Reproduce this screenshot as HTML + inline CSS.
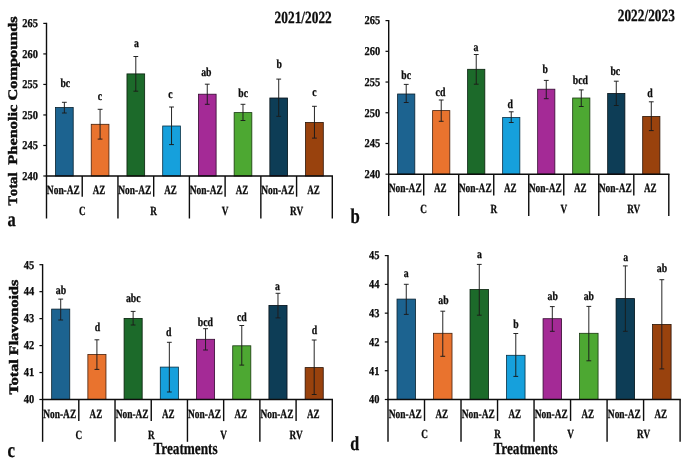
<!DOCTYPE html>
<html lang="en"><head><meta charset="utf-8"><title>Total phenolic compounds and flavonoids</title>
<style>
html,body{margin:0;padding:0;background:#fff;}
body{width:685px;height:460px;overflow:hidden;}
svg{display:block;font-family:"Liberation Serif","Times New Roman",serif;fill:#0a0a0a;text-rendering:geometricPrecision;}
text{stroke:#0a0a0a;stroke-width:0.28px;}
</style></head><body>
<svg width="685" height="460" viewBox="0 0 685 460">
<defs><filter id="soft" x="0" y="0" width="685" height="460" filterUnits="userSpaceOnUse"><feGaussianBlur stdDeviation="0.45"/></filter></defs>
<rect width="685" height="460" fill="#fff"/>
<g filter="url(#soft)">
<rect width="685" height="460" fill="#fff"/>
<rect x="55.51" y="107.5" width="17.7" height="68.5" fill="#1d6390" stroke="#09202e" stroke-width="0.8"/>
<line x1="64.36" y1="102.3" x2="64.36" y2="113" stroke="#1a1a1a" stroke-width="0.95"/>
<line x1="61.96" y1="102.3" x2="66.76" y2="102.3" stroke="#1a1a1a" stroke-width="0.95"/>
<line x1="61.96" y1="113" x2="66.76" y2="113" stroke="#1a1a1a" stroke-width="0.95"/>
<rect x="91.24" y="124.3" width="17.7" height="51.7" fill="#e9732f" stroke="#45200b" stroke-width="0.8"/>
<line x1="100.09" y1="109.3" x2="100.09" y2="139.1" stroke="#1a1a1a" stroke-width="0.95"/>
<line x1="97.69" y1="109.3" x2="102.49" y2="109.3" stroke="#1a1a1a" stroke-width="0.95"/>
<line x1="97.69" y1="139.1" x2="102.49" y2="139.1" stroke="#1a1a1a" stroke-width="0.95"/>
<rect x="126.96" y="73.9" width="17.7" height="102.1" fill="#1d6a2b" stroke="#07200d" stroke-width="0.8"/>
<line x1="135.81" y1="56.5" x2="135.81" y2="91.2" stroke="#1a1a1a" stroke-width="0.95"/>
<line x1="133.41" y1="56.5" x2="138.21" y2="56.5" stroke="#1a1a1a" stroke-width="0.95"/>
<line x1="133.41" y1="91.2" x2="138.21" y2="91.2" stroke="#1a1a1a" stroke-width="0.95"/>
<rect x="162.69" y="126" width="17.7" height="50" fill="#16a0dc" stroke="#072f44" stroke-width="0.8"/>
<line x1="171.54" y1="107" x2="171.54" y2="144.6" stroke="#1a1a1a" stroke-width="0.95"/>
<line x1="169.14" y1="107" x2="173.94" y2="107" stroke="#1a1a1a" stroke-width="0.95"/>
<line x1="169.14" y1="144.6" x2="173.94" y2="144.6" stroke="#1a1a1a" stroke-width="0.95"/>
<rect x="198.41" y="94.2" width="17.7" height="81.8" fill="#a42c96" stroke="#330b2f" stroke-width="0.8"/>
<line x1="207.26" y1="84.2" x2="207.26" y2="104.3" stroke="#1a1a1a" stroke-width="0.95"/>
<line x1="204.86" y1="84.2" x2="209.66" y2="84.2" stroke="#1a1a1a" stroke-width="0.95"/>
<line x1="204.86" y1="104.3" x2="209.66" y2="104.3" stroke="#1a1a1a" stroke-width="0.95"/>
<rect x="234.14" y="112.6" width="17.7" height="63.4" fill="#4ea832" stroke="#17380f" stroke-width="0.8"/>
<line x1="242.99" y1="104.3" x2="242.99" y2="120.5" stroke="#1a1a1a" stroke-width="0.95"/>
<line x1="240.59" y1="104.3" x2="245.39" y2="104.3" stroke="#1a1a1a" stroke-width="0.95"/>
<line x1="240.59" y1="120.5" x2="245.39" y2="120.5" stroke="#1a1a1a" stroke-width="0.95"/>
<rect x="269.86" y="98" width="17.7" height="78" fill="#0f3e57" stroke="#030f16" stroke-width="0.8"/>
<line x1="278.71" y1="79.1" x2="278.71" y2="116.3" stroke="#1a1a1a" stroke-width="0.95"/>
<line x1="276.31" y1="79.1" x2="281.11" y2="79.1" stroke="#1a1a1a" stroke-width="0.95"/>
<line x1="276.31" y1="116.3" x2="281.11" y2="116.3" stroke="#1a1a1a" stroke-width="0.95"/>
<rect x="305.59" y="122.5" width="17.7" height="53.5" fill="#99420f" stroke="#2b1203" stroke-width="0.8"/>
<line x1="314.44" y1="106.3" x2="314.44" y2="138.1" stroke="#1a1a1a" stroke-width="0.95"/>
<line x1="312.04" y1="106.3" x2="316.84" y2="106.3" stroke="#1a1a1a" stroke-width="0.95"/>
<line x1="312.04" y1="138.1" x2="316.84" y2="138.1" stroke="#1a1a1a" stroke-width="0.95"/>
<text x="65.3" y="87.3" font-size="12.2" text-anchor="middle" font-weight="bold" textLength="9.76" lengthAdjust="spacingAndGlyphs">bc</text>
<text x="100" y="99.6" font-size="12.2" text-anchor="middle" font-weight="bold" textLength="4.33" lengthAdjust="spacingAndGlyphs">c</text>
<text x="136.4" y="47.4" font-size="12.2" text-anchor="middle" font-weight="bold" textLength="4.88" lengthAdjust="spacingAndGlyphs">a</text>
<text x="170.5" y="98.4" font-size="12.2" text-anchor="middle" font-weight="bold" textLength="4.33" lengthAdjust="spacingAndGlyphs">c</text>
<text x="206.4" y="75.8" font-size="12.2" text-anchor="middle" font-weight="bold" textLength="10.31" lengthAdjust="spacingAndGlyphs">ab</text>
<text x="243.1" y="97.1" font-size="12.2" text-anchor="middle" font-weight="bold" textLength="9.76" lengthAdjust="spacingAndGlyphs">bc</text>
<text x="279.3" y="68.2" font-size="12.2" text-anchor="middle" font-weight="bold" textLength="5.43" lengthAdjust="spacingAndGlyphs">b</text>
<text x="314.5" y="95.9" font-size="12.2" text-anchor="middle" font-weight="bold" textLength="4.33" lengthAdjust="spacingAndGlyphs">c</text>
<line x1="46.5" y1="22.8" x2="46.5" y2="218.5" stroke="#0a0a0a" stroke-width="1.4"/>
<line x1="45.8" y1="176" x2="333" y2="176" stroke="#0a0a0a" stroke-width="1.5"/>
<line x1="43.3" y1="176" x2="46.5" y2="176" stroke="#0a0a0a" stroke-width="1.2"/>
<text x="38" y="179.8" font-size="12" text-anchor="end" font-weight="bold" textLength="15.66" lengthAdjust="spacingAndGlyphs">240</text>
<line x1="43.3" y1="145.48" x2="46.5" y2="145.48" stroke="#0a0a0a" stroke-width="1.2"/>
<text x="38" y="149.28" font-size="12" text-anchor="end" font-weight="bold" textLength="15.66" lengthAdjust="spacingAndGlyphs">245</text>
<line x1="43.3" y1="114.96" x2="46.5" y2="114.96" stroke="#0a0a0a" stroke-width="1.2"/>
<text x="38" y="118.76" font-size="12" text-anchor="end" font-weight="bold" textLength="15.66" lengthAdjust="spacingAndGlyphs">250</text>
<line x1="43.3" y1="84.44" x2="46.5" y2="84.44" stroke="#0a0a0a" stroke-width="1.2"/>
<text x="38" y="88.24" font-size="12" text-anchor="end" font-weight="bold" textLength="15.66" lengthAdjust="spacingAndGlyphs">255</text>
<line x1="43.3" y1="53.92" x2="46.5" y2="53.92" stroke="#0a0a0a" stroke-width="1.2"/>
<text x="38" y="57.72" font-size="12" text-anchor="end" font-weight="bold" textLength="15.66" lengthAdjust="spacingAndGlyphs">260</text>
<line x1="43.3" y1="23.4" x2="46.5" y2="23.4" stroke="#0a0a0a" stroke-width="1.2"/>
<text x="38" y="27.2" font-size="12" text-anchor="end" font-weight="bold" textLength="15.66" lengthAdjust="spacingAndGlyphs">265</text>
<line x1="82.22" y1="176" x2="82.22" y2="196.7" stroke="#0a0a0a" stroke-width="1.4"/>
<line x1="117.95" y1="176" x2="117.95" y2="218.5" stroke="#0a0a0a" stroke-width="1.4"/>
<line x1="153.68" y1="176" x2="153.68" y2="196.7" stroke="#0a0a0a" stroke-width="1.4"/>
<line x1="189.4" y1="176" x2="189.4" y2="218.5" stroke="#0a0a0a" stroke-width="1.4"/>
<line x1="225.12" y1="176" x2="225.12" y2="196.7" stroke="#0a0a0a" stroke-width="1.4"/>
<line x1="260.85" y1="176" x2="260.85" y2="218.5" stroke="#0a0a0a" stroke-width="1.4"/>
<line x1="296.58" y1="176" x2="296.58" y2="196.7" stroke="#0a0a0a" stroke-width="1.4"/>
<line x1="332.3" y1="176" x2="332.3" y2="218.5" stroke="#0a0a0a" stroke-width="1.4"/>
<text x="63.36" y="193.7" font-size="12.5" text-anchor="middle" font-weight="bold" textLength="33" lengthAdjust="spacingAndGlyphs">Non-AZ</text>
<text x="99.09" y="193.7" font-size="12.5" text-anchor="middle" font-weight="bold" textLength="12.6" lengthAdjust="spacingAndGlyphs">AZ</text>
<text x="134.81" y="193.7" font-size="12.5" text-anchor="middle" font-weight="bold" textLength="33" lengthAdjust="spacingAndGlyphs">Non-AZ</text>
<text x="170.54" y="193.7" font-size="12.5" text-anchor="middle" font-weight="bold" textLength="12.6" lengthAdjust="spacingAndGlyphs">AZ</text>
<text x="206.26" y="193.7" font-size="12.5" text-anchor="middle" font-weight="bold" textLength="33" lengthAdjust="spacingAndGlyphs">Non-AZ</text>
<text x="241.99" y="193.7" font-size="12.5" text-anchor="middle" font-weight="bold" textLength="12.6" lengthAdjust="spacingAndGlyphs">AZ</text>
<text x="277.71" y="193.7" font-size="12.5" text-anchor="middle" font-weight="bold" textLength="33" lengthAdjust="spacingAndGlyphs">Non-AZ</text>
<text x="313.44" y="193.7" font-size="12.5" text-anchor="middle" font-weight="bold" textLength="12.6" lengthAdjust="spacingAndGlyphs">AZ</text>
<text x="82.22" y="215.1" font-size="12.5" text-anchor="middle" font-weight="bold" textLength="6.68" lengthAdjust="spacingAndGlyphs">C</text>
<text x="153.68" y="215.1" font-size="12.5" text-anchor="middle" font-weight="bold" textLength="6.68" lengthAdjust="spacingAndGlyphs">R</text>
<text x="225.12" y="215.1" font-size="12.5" text-anchor="middle" font-weight="bold" textLength="6.68" lengthAdjust="spacingAndGlyphs">V</text>
<text x="296.58" y="215.1" font-size="12.5" text-anchor="middle" font-weight="bold" textLength="13.03" lengthAdjust="spacingAndGlyphs">RV</text>
<rect x="397.61" y="94" width="17.2" height="80.2" fill="#1d6390" stroke="#09202e" stroke-width="0.8"/>
<line x1="406.21" y1="84.4" x2="406.21" y2="102.5" stroke="#1a1a1a" stroke-width="0.95"/>
<line x1="403.81" y1="84.4" x2="408.61" y2="84.4" stroke="#1a1a1a" stroke-width="0.95"/>
<line x1="403.81" y1="102.5" x2="408.61" y2="102.5" stroke="#1a1a1a" stroke-width="0.95"/>
<rect x="432.62" y="110.6" width="17.2" height="63.6" fill="#e9732f" stroke="#45200b" stroke-width="0.8"/>
<line x1="441.22" y1="100" x2="441.22" y2="121.3" stroke="#1a1a1a" stroke-width="0.95"/>
<line x1="438.82" y1="100" x2="443.62" y2="100" stroke="#1a1a1a" stroke-width="0.95"/>
<line x1="438.82" y1="121.3" x2="443.62" y2="121.3" stroke="#1a1a1a" stroke-width="0.95"/>
<rect x="467.63" y="69.3" width="17.2" height="104.9" fill="#1d6a2b" stroke="#07200d" stroke-width="0.8"/>
<line x1="476.23" y1="54.5" x2="476.23" y2="84.2" stroke="#1a1a1a" stroke-width="0.95"/>
<line x1="473.83" y1="54.5" x2="478.63" y2="54.5" stroke="#1a1a1a" stroke-width="0.95"/>
<line x1="473.83" y1="84.2" x2="478.63" y2="84.2" stroke="#1a1a1a" stroke-width="0.95"/>
<rect x="502.64" y="117.5" width="17.2" height="56.7" fill="#16a0dc" stroke="#072f44" stroke-width="0.8"/>
<line x1="511.24" y1="111.8" x2="511.24" y2="122.5" stroke="#1a1a1a" stroke-width="0.95"/>
<line x1="508.84" y1="111.8" x2="513.64" y2="111.8" stroke="#1a1a1a" stroke-width="0.95"/>
<line x1="508.84" y1="122.5" x2="513.64" y2="122.5" stroke="#1a1a1a" stroke-width="0.95"/>
<rect x="537.66" y="89.2" width="17.2" height="85" fill="#a42c96" stroke="#330b2f" stroke-width="0.8"/>
<line x1="546.26" y1="80.4" x2="546.26" y2="98.7" stroke="#1a1a1a" stroke-width="0.95"/>
<line x1="543.86" y1="80.4" x2="548.66" y2="80.4" stroke="#1a1a1a" stroke-width="0.95"/>
<line x1="543.86" y1="98.7" x2="548.66" y2="98.7" stroke="#1a1a1a" stroke-width="0.95"/>
<rect x="572.67" y="98" width="17.2" height="76.2" fill="#4ea832" stroke="#17380f" stroke-width="0.8"/>
<line x1="581.27" y1="89.9" x2="581.27" y2="106.5" stroke="#1a1a1a" stroke-width="0.95"/>
<line x1="578.87" y1="89.9" x2="583.67" y2="89.9" stroke="#1a1a1a" stroke-width="0.95"/>
<line x1="578.87" y1="106.5" x2="583.67" y2="106.5" stroke="#1a1a1a" stroke-width="0.95"/>
<rect x="607.68" y="93.5" width="17.2" height="80.7" fill="#0f3e57" stroke="#030f16" stroke-width="0.8"/>
<line x1="616.28" y1="81.2" x2="616.28" y2="105.5" stroke="#1a1a1a" stroke-width="0.95"/>
<line x1="613.88" y1="81.2" x2="618.68" y2="81.2" stroke="#1a1a1a" stroke-width="0.95"/>
<line x1="613.88" y1="105.5" x2="618.68" y2="105.5" stroke="#1a1a1a" stroke-width="0.95"/>
<rect x="642.69" y="116.5" width="17.2" height="57.7" fill="#99420f" stroke="#2b1203" stroke-width="0.8"/>
<line x1="651.29" y1="101.8" x2="651.29" y2="130.6" stroke="#1a1a1a" stroke-width="0.95"/>
<line x1="648.89" y1="101.8" x2="653.69" y2="101.8" stroke="#1a1a1a" stroke-width="0.95"/>
<line x1="648.89" y1="130.6" x2="653.69" y2="130.6" stroke="#1a1a1a" stroke-width="0.95"/>
<text x="406.1" y="78.9" font-size="12.2" text-anchor="middle" font-weight="bold" textLength="9.76" lengthAdjust="spacingAndGlyphs">bc</text>
<text x="440.5" y="96" font-size="12.2" text-anchor="middle" font-weight="bold" textLength="9.76" lengthAdjust="spacingAndGlyphs">cd</text>
<text x="475.9" y="51.3" font-size="12.2" text-anchor="middle" font-weight="bold" textLength="4.88" lengthAdjust="spacingAndGlyphs">a</text>
<text x="510.1" y="107.8" font-size="12.2" text-anchor="middle" font-weight="bold" textLength="5.43" lengthAdjust="spacingAndGlyphs">d</text>
<text x="545.2" y="72.7" font-size="12.2" text-anchor="middle" font-weight="bold" textLength="5.43" lengthAdjust="spacingAndGlyphs">b</text>
<text x="580.3" y="83.5" font-size="12.2" text-anchor="middle" font-weight="bold" textLength="15.19" lengthAdjust="spacingAndGlyphs">bcd</text>
<text x="615.3" y="75.2" font-size="12.2" text-anchor="middle" font-weight="bold" textLength="9.76" lengthAdjust="spacingAndGlyphs">bc</text>
<text x="649.9" y="97.3" font-size="12.2" text-anchor="middle" font-weight="bold" textLength="5.43" lengthAdjust="spacingAndGlyphs">d</text>
<line x1="388.7" y1="20" x2="388.7" y2="216" stroke="#0a0a0a" stroke-width="1.4"/>
<line x1="388" y1="174.2" x2="669.5" y2="174.2" stroke="#0a0a0a" stroke-width="1.5"/>
<line x1="385.5" y1="174.2" x2="388.7" y2="174.2" stroke="#0a0a0a" stroke-width="1.2"/>
<text x="380.2" y="178" font-size="12" text-anchor="end" font-weight="bold" textLength="15.66" lengthAdjust="spacingAndGlyphs">240</text>
<line x1="385.5" y1="143.48" x2="388.7" y2="143.48" stroke="#0a0a0a" stroke-width="1.2"/>
<text x="380.2" y="147.28" font-size="12" text-anchor="end" font-weight="bold" textLength="15.66" lengthAdjust="spacingAndGlyphs">245</text>
<line x1="385.5" y1="112.76" x2="388.7" y2="112.76" stroke="#0a0a0a" stroke-width="1.2"/>
<text x="380.2" y="116.56" font-size="12" text-anchor="end" font-weight="bold" textLength="15.66" lengthAdjust="spacingAndGlyphs">250</text>
<line x1="385.5" y1="82.04" x2="388.7" y2="82.04" stroke="#0a0a0a" stroke-width="1.2"/>
<text x="380.2" y="85.84" font-size="12" text-anchor="end" font-weight="bold" textLength="15.66" lengthAdjust="spacingAndGlyphs">255</text>
<line x1="385.5" y1="51.32" x2="388.7" y2="51.32" stroke="#0a0a0a" stroke-width="1.2"/>
<text x="380.2" y="55.12" font-size="12" text-anchor="end" font-weight="bold" textLength="15.66" lengthAdjust="spacingAndGlyphs">260</text>
<line x1="385.5" y1="20.6" x2="388.7" y2="20.6" stroke="#0a0a0a" stroke-width="1.2"/>
<text x="380.2" y="24.4" font-size="12" text-anchor="end" font-weight="bold" textLength="15.66" lengthAdjust="spacingAndGlyphs">265</text>
<line x1="423.71" y1="174.2" x2="423.71" y2="195.4" stroke="#0a0a0a" stroke-width="1.4"/>
<line x1="458.72" y1="174.2" x2="458.72" y2="216" stroke="#0a0a0a" stroke-width="1.4"/>
<line x1="493.74" y1="174.2" x2="493.74" y2="195.4" stroke="#0a0a0a" stroke-width="1.4"/>
<line x1="528.75" y1="174.2" x2="528.75" y2="216" stroke="#0a0a0a" stroke-width="1.4"/>
<line x1="563.76" y1="174.2" x2="563.76" y2="195.4" stroke="#0a0a0a" stroke-width="1.4"/>
<line x1="598.77" y1="174.2" x2="598.77" y2="216" stroke="#0a0a0a" stroke-width="1.4"/>
<line x1="633.79" y1="174.2" x2="633.79" y2="195.4" stroke="#0a0a0a" stroke-width="1.4"/>
<line x1="668.8" y1="174.2" x2="668.8" y2="216" stroke="#0a0a0a" stroke-width="1.4"/>
<text x="405.21" y="192.3" font-size="12.5" text-anchor="middle" font-weight="bold" textLength="33" lengthAdjust="spacingAndGlyphs">Non-AZ</text>
<text x="440.22" y="192.3" font-size="12.5" text-anchor="middle" font-weight="bold" textLength="12.6" lengthAdjust="spacingAndGlyphs">AZ</text>
<text x="475.23" y="192.3" font-size="12.5" text-anchor="middle" font-weight="bold" textLength="33" lengthAdjust="spacingAndGlyphs">Non-AZ</text>
<text x="510.24" y="192.3" font-size="12.5" text-anchor="middle" font-weight="bold" textLength="12.6" lengthAdjust="spacingAndGlyphs">AZ</text>
<text x="545.26" y="192.3" font-size="12.5" text-anchor="middle" font-weight="bold" textLength="33" lengthAdjust="spacingAndGlyphs">Non-AZ</text>
<text x="580.27" y="192.3" font-size="12.5" text-anchor="middle" font-weight="bold" textLength="12.6" lengthAdjust="spacingAndGlyphs">AZ</text>
<text x="615.28" y="192.3" font-size="12.5" text-anchor="middle" font-weight="bold" textLength="33" lengthAdjust="spacingAndGlyphs">Non-AZ</text>
<text x="650.29" y="192.3" font-size="12.5" text-anchor="middle" font-weight="bold" textLength="12.6" lengthAdjust="spacingAndGlyphs">AZ</text>
<text x="423.71" y="213.3" font-size="12.5" text-anchor="middle" font-weight="bold" textLength="6.68" lengthAdjust="spacingAndGlyphs">C</text>
<text x="493.74" y="213.3" font-size="12.5" text-anchor="middle" font-weight="bold" textLength="6.68" lengthAdjust="spacingAndGlyphs">R</text>
<text x="563.76" y="213.3" font-size="12.5" text-anchor="middle" font-weight="bold" textLength="6.68" lengthAdjust="spacingAndGlyphs">V</text>
<text x="633.79" y="213.3" font-size="12.5" text-anchor="middle" font-weight="bold" textLength="13.03" lengthAdjust="spacingAndGlyphs">RV</text>
<rect x="51.66" y="309.1" width="18.1" height="90.4" fill="#1d6390" stroke="#09202e" stroke-width="0.8"/>
<line x1="60.71" y1="299.1" x2="60.71" y2="320" stroke="#1a1a1a" stroke-width="0.95"/>
<line x1="58.31" y1="299.1" x2="63.11" y2="299.1" stroke="#1a1a1a" stroke-width="0.95"/>
<line x1="58.31" y1="320" x2="63.11" y2="320" stroke="#1a1a1a" stroke-width="0.95"/>
<rect x="87.87" y="354.5" width="18.1" height="45" fill="#e9732f" stroke="#45200b" stroke-width="0.8"/>
<line x1="96.92" y1="339.8" x2="96.92" y2="369.4" stroke="#1a1a1a" stroke-width="0.95"/>
<line x1="94.52" y1="339.8" x2="99.32" y2="339.8" stroke="#1a1a1a" stroke-width="0.95"/>
<line x1="94.52" y1="369.4" x2="99.32" y2="369.4" stroke="#1a1a1a" stroke-width="0.95"/>
<rect x="124.08" y="318.4" width="18.1" height="81.1" fill="#1d6a2b" stroke="#07200d" stroke-width="0.8"/>
<line x1="133.13" y1="311.4" x2="133.13" y2="325" stroke="#1a1a1a" stroke-width="0.95"/>
<line x1="130.73" y1="311.4" x2="135.53" y2="311.4" stroke="#1a1a1a" stroke-width="0.95"/>
<line x1="130.73" y1="325" x2="135.53" y2="325" stroke="#1a1a1a" stroke-width="0.95"/>
<rect x="160.29" y="367.1" width="18.1" height="32.4" fill="#16a0dc" stroke="#072f44" stroke-width="0.8"/>
<line x1="169.34" y1="342.3" x2="169.34" y2="392" stroke="#1a1a1a" stroke-width="0.95"/>
<line x1="166.94" y1="342.3" x2="171.74" y2="342.3" stroke="#1a1a1a" stroke-width="0.95"/>
<line x1="166.94" y1="392" x2="171.74" y2="392" stroke="#1a1a1a" stroke-width="0.95"/>
<rect x="196.51" y="339.3" width="18.1" height="60.2" fill="#a42c96" stroke="#330b2f" stroke-width="0.8"/>
<line x1="205.56" y1="328.7" x2="205.56" y2="350" stroke="#1a1a1a" stroke-width="0.95"/>
<line x1="203.16" y1="328.7" x2="207.96" y2="328.7" stroke="#1a1a1a" stroke-width="0.95"/>
<line x1="203.16" y1="350" x2="207.96" y2="350" stroke="#1a1a1a" stroke-width="0.95"/>
<rect x="232.72" y="345.8" width="18.1" height="53.7" fill="#4ea832" stroke="#17380f" stroke-width="0.8"/>
<line x1="241.77" y1="325.5" x2="241.77" y2="365.1" stroke="#1a1a1a" stroke-width="0.95"/>
<line x1="239.37" y1="325.5" x2="244.17" y2="325.5" stroke="#1a1a1a" stroke-width="0.95"/>
<line x1="239.37" y1="365.1" x2="244.17" y2="365.1" stroke="#1a1a1a" stroke-width="0.95"/>
<rect x="268.93" y="305.4" width="18.1" height="94.1" fill="#0f3e57" stroke="#030f16" stroke-width="0.8"/>
<line x1="277.98" y1="293.3" x2="277.98" y2="317.9" stroke="#1a1a1a" stroke-width="0.95"/>
<line x1="275.58" y1="293.3" x2="280.38" y2="293.3" stroke="#1a1a1a" stroke-width="0.95"/>
<line x1="275.58" y1="317.9" x2="280.38" y2="317.9" stroke="#1a1a1a" stroke-width="0.95"/>
<rect x="305.14" y="367.6" width="18.1" height="31.9" fill="#99420f" stroke="#2b1203" stroke-width="0.8"/>
<line x1="314.19" y1="340" x2="314.19" y2="394.5" stroke="#1a1a1a" stroke-width="0.95"/>
<line x1="311.79" y1="340" x2="316.59" y2="340" stroke="#1a1a1a" stroke-width="0.95"/>
<line x1="311.79" y1="394.5" x2="316.59" y2="394.5" stroke="#1a1a1a" stroke-width="0.95"/>
<text x="61" y="294" font-size="12.2" text-anchor="middle" font-weight="bold" textLength="10.31" lengthAdjust="spacingAndGlyphs">ab</text>
<text x="97.5" y="330.9" font-size="12.2" text-anchor="middle" font-weight="bold" textLength="5.43" lengthAdjust="spacingAndGlyphs">d</text>
<text x="133.2" y="302" font-size="12.2" text-anchor="middle" font-weight="bold" textLength="14.64" lengthAdjust="spacingAndGlyphs">abc</text>
<text x="168.8" y="335.9" font-size="12.2" text-anchor="middle" font-weight="bold" textLength="5.43" lengthAdjust="spacingAndGlyphs">d</text>
<text x="205.4" y="325.9" font-size="12.2" text-anchor="middle" font-weight="bold" textLength="15.19" lengthAdjust="spacingAndGlyphs">bcd</text>
<text x="241.8" y="320.9" font-size="12.2" text-anchor="middle" font-weight="bold" textLength="9.76" lengthAdjust="spacingAndGlyphs">cd</text>
<text x="277.5" y="290.2" font-size="12.2" text-anchor="middle" font-weight="bold" textLength="4.88" lengthAdjust="spacingAndGlyphs">a</text>
<text x="314.5" y="333.9" font-size="12.2" text-anchor="middle" font-weight="bold" textLength="5.43" lengthAdjust="spacingAndGlyphs">d</text>
<line x1="42.6" y1="264.1" x2="42.6" y2="441.8" stroke="#0a0a0a" stroke-width="1.4"/>
<line x1="41.9" y1="399.5" x2="333" y2="399.5" stroke="#0a0a0a" stroke-width="1.5"/>
<line x1="39.4" y1="399.5" x2="42.6" y2="399.5" stroke="#0a0a0a" stroke-width="1.2"/>
<text x="34.1" y="403.3" font-size="12" text-anchor="end" font-weight="bold" textLength="10.44" lengthAdjust="spacingAndGlyphs">40</text>
<line x1="39.4" y1="372.54" x2="42.6" y2="372.54" stroke="#0a0a0a" stroke-width="1.2"/>
<text x="34.1" y="376.34" font-size="12" text-anchor="end" font-weight="bold" textLength="10.44" lengthAdjust="spacingAndGlyphs">41</text>
<line x1="39.4" y1="345.58" x2="42.6" y2="345.58" stroke="#0a0a0a" stroke-width="1.2"/>
<text x="34.1" y="349.38" font-size="12" text-anchor="end" font-weight="bold" textLength="10.44" lengthAdjust="spacingAndGlyphs">42</text>
<line x1="39.4" y1="318.62" x2="42.6" y2="318.62" stroke="#0a0a0a" stroke-width="1.2"/>
<text x="34.1" y="322.42" font-size="12" text-anchor="end" font-weight="bold" textLength="10.44" lengthAdjust="spacingAndGlyphs">43</text>
<line x1="39.4" y1="291.66" x2="42.6" y2="291.66" stroke="#0a0a0a" stroke-width="1.2"/>
<text x="34.1" y="295.46" font-size="12" text-anchor="end" font-weight="bold" textLength="10.44" lengthAdjust="spacingAndGlyphs">44</text>
<line x1="39.4" y1="264.7" x2="42.6" y2="264.7" stroke="#0a0a0a" stroke-width="1.2"/>
<text x="34.1" y="268.5" font-size="12" text-anchor="end" font-weight="bold" textLength="10.44" lengthAdjust="spacingAndGlyphs">45</text>
<line x1="78.81" y1="399.5" x2="78.81" y2="421.1" stroke="#0a0a0a" stroke-width="1.4"/>
<line x1="115.03" y1="399.5" x2="115.03" y2="441.8" stroke="#0a0a0a" stroke-width="1.4"/>
<line x1="151.24" y1="399.5" x2="151.24" y2="421.1" stroke="#0a0a0a" stroke-width="1.4"/>
<line x1="187.45" y1="399.5" x2="187.45" y2="441.8" stroke="#0a0a0a" stroke-width="1.4"/>
<line x1="223.66" y1="399.5" x2="223.66" y2="421.1" stroke="#0a0a0a" stroke-width="1.4"/>
<line x1="259.88" y1="399.5" x2="259.88" y2="441.8" stroke="#0a0a0a" stroke-width="1.4"/>
<line x1="296.09" y1="399.5" x2="296.09" y2="421.1" stroke="#0a0a0a" stroke-width="1.4"/>
<line x1="332.3" y1="399.5" x2="332.3" y2="441.8" stroke="#0a0a0a" stroke-width="1.4"/>
<text x="59.71" y="418.2" font-size="12.5" text-anchor="middle" font-weight="bold" textLength="33" lengthAdjust="spacingAndGlyphs">Non-AZ</text>
<text x="95.92" y="418.2" font-size="12.5" text-anchor="middle" font-weight="bold" textLength="12.6" lengthAdjust="spacingAndGlyphs">AZ</text>
<text x="132.13" y="418.2" font-size="12.5" text-anchor="middle" font-weight="bold" textLength="33" lengthAdjust="spacingAndGlyphs">Non-AZ</text>
<text x="168.34" y="418.2" font-size="12.5" text-anchor="middle" font-weight="bold" textLength="12.6" lengthAdjust="spacingAndGlyphs">AZ</text>
<text x="204.56" y="418.2" font-size="12.5" text-anchor="middle" font-weight="bold" textLength="33" lengthAdjust="spacingAndGlyphs">Non-AZ</text>
<text x="240.77" y="418.2" font-size="12.5" text-anchor="middle" font-weight="bold" textLength="12.6" lengthAdjust="spacingAndGlyphs">AZ</text>
<text x="276.98" y="418.2" font-size="12.5" text-anchor="middle" font-weight="bold" textLength="33" lengthAdjust="spacingAndGlyphs">Non-AZ</text>
<text x="313.19" y="418.2" font-size="12.5" text-anchor="middle" font-weight="bold" textLength="12.6" lengthAdjust="spacingAndGlyphs">AZ</text>
<text x="78.81" y="438.5" font-size="12.5" text-anchor="middle" font-weight="bold" textLength="6.68" lengthAdjust="spacingAndGlyphs">C</text>
<text x="151.24" y="438.5" font-size="12.5" text-anchor="middle" font-weight="bold" textLength="6.68" lengthAdjust="spacingAndGlyphs">R</text>
<text x="223.66" y="438.5" font-size="12.5" text-anchor="middle" font-weight="bold" textLength="6.68" lengthAdjust="spacingAndGlyphs">V</text>
<text x="296.09" y="438.5" font-size="12.5" text-anchor="middle" font-weight="bold" textLength="13.03" lengthAdjust="spacingAndGlyphs">RV</text>
<rect x="397.01" y="299.1" width="18.5" height="100.4" fill="#1d6390" stroke="#09202e" stroke-width="0.8"/>
<line x1="406.26" y1="284.3" x2="406.26" y2="314.4" stroke="#1a1a1a" stroke-width="0.95"/>
<line x1="403.86" y1="284.3" x2="408.66" y2="284.3" stroke="#1a1a1a" stroke-width="0.95"/>
<line x1="403.86" y1="314.4" x2="408.66" y2="314.4" stroke="#1a1a1a" stroke-width="0.95"/>
<rect x="433.52" y="333.3" width="18.5" height="66.2" fill="#e9732f" stroke="#45200b" stroke-width="0.8"/>
<line x1="442.77" y1="311.2" x2="442.77" y2="356.3" stroke="#1a1a1a" stroke-width="0.95"/>
<line x1="440.37" y1="311.2" x2="445.17" y2="311.2" stroke="#1a1a1a" stroke-width="0.95"/>
<line x1="440.37" y1="356.3" x2="445.17" y2="356.3" stroke="#1a1a1a" stroke-width="0.95"/>
<rect x="470.03" y="289.5" width="18.5" height="110" fill="#1d6a2b" stroke="#07200d" stroke-width="0.8"/>
<line x1="479.28" y1="264.4" x2="479.28" y2="315.2" stroke="#1a1a1a" stroke-width="0.95"/>
<line x1="476.88" y1="264.4" x2="481.68" y2="264.4" stroke="#1a1a1a" stroke-width="0.95"/>
<line x1="476.88" y1="315.2" x2="481.68" y2="315.2" stroke="#1a1a1a" stroke-width="0.95"/>
<rect x="506.54" y="355.3" width="18.5" height="44.2" fill="#16a0dc" stroke="#072f44" stroke-width="0.8"/>
<line x1="515.79" y1="333.5" x2="515.79" y2="376.4" stroke="#1a1a1a" stroke-width="0.95"/>
<line x1="513.39" y1="333.5" x2="518.19" y2="333.5" stroke="#1a1a1a" stroke-width="0.95"/>
<line x1="513.39" y1="376.4" x2="518.19" y2="376.4" stroke="#1a1a1a" stroke-width="0.95"/>
<rect x="543.06" y="318.7" width="18.5" height="80.8" fill="#a42c96" stroke="#330b2f" stroke-width="0.8"/>
<line x1="552.31" y1="306.6" x2="552.31" y2="331.3" stroke="#1a1a1a" stroke-width="0.95"/>
<line x1="549.91" y1="306.6" x2="554.71" y2="306.6" stroke="#1a1a1a" stroke-width="0.95"/>
<line x1="549.91" y1="331.3" x2="554.71" y2="331.3" stroke="#1a1a1a" stroke-width="0.95"/>
<rect x="579.57" y="333.3" width="18.5" height="66.2" fill="#4ea832" stroke="#17380f" stroke-width="0.8"/>
<line x1="588.82" y1="306.4" x2="588.82" y2="360.8" stroke="#1a1a1a" stroke-width="0.95"/>
<line x1="586.42" y1="306.4" x2="591.22" y2="306.4" stroke="#1a1a1a" stroke-width="0.95"/>
<line x1="586.42" y1="360.8" x2="591.22" y2="360.8" stroke="#1a1a1a" stroke-width="0.95"/>
<rect x="616.08" y="298.6" width="18.5" height="100.9" fill="#0f3e57" stroke="#030f16" stroke-width="0.8"/>
<line x1="625.33" y1="265.9" x2="625.33" y2="331.3" stroke="#1a1a1a" stroke-width="0.95"/>
<line x1="622.93" y1="265.9" x2="627.73" y2="265.9" stroke="#1a1a1a" stroke-width="0.95"/>
<line x1="622.93" y1="331.3" x2="627.73" y2="331.3" stroke="#1a1a1a" stroke-width="0.95"/>
<rect x="652.59" y="324.5" width="18.5" height="75" fill="#99420f" stroke="#2b1203" stroke-width="0.8"/>
<line x1="661.84" y1="279.7" x2="661.84" y2="368.9" stroke="#1a1a1a" stroke-width="0.95"/>
<line x1="659.44" y1="279.7" x2="664.24" y2="279.7" stroke="#1a1a1a" stroke-width="0.95"/>
<line x1="659.44" y1="368.9" x2="664.24" y2="368.9" stroke="#1a1a1a" stroke-width="0.95"/>
<text x="406.1" y="277.4" font-size="12.2" text-anchor="middle" font-weight="bold" textLength="4.88" lengthAdjust="spacingAndGlyphs">a</text>
<text x="443.5" y="303.8" font-size="12.2" text-anchor="middle" font-weight="bold" textLength="10.31" lengthAdjust="spacingAndGlyphs">ab</text>
<text x="479.4" y="258" font-size="12.2" text-anchor="middle" font-weight="bold" textLength="4.88" lengthAdjust="spacingAndGlyphs">a</text>
<text x="516" y="327.9" font-size="12.2" text-anchor="middle" font-weight="bold" textLength="5.43" lengthAdjust="spacingAndGlyphs">b</text>
<text x="552.7" y="299.5" font-size="12.2" text-anchor="middle" font-weight="bold" textLength="10.31" lengthAdjust="spacingAndGlyphs">ab</text>
<text x="588.9" y="300" font-size="12.2" text-anchor="middle" font-weight="bold" textLength="10.31" lengthAdjust="spacingAndGlyphs">ab</text>
<text x="625.8" y="261.1" font-size="12.2" text-anchor="middle" font-weight="bold" textLength="4.88" lengthAdjust="spacingAndGlyphs">a</text>
<text x="662" y="271.9" font-size="12.2" text-anchor="middle" font-weight="bold" textLength="10.31" lengthAdjust="spacingAndGlyphs">ab</text>
<line x1="388" y1="255" x2="388" y2="441.7" stroke="#0a0a0a" stroke-width="1.4"/>
<line x1="387.3" y1="399.5" x2="680.8" y2="399.5" stroke="#0a0a0a" stroke-width="1.5"/>
<line x1="384.8" y1="399.5" x2="388" y2="399.5" stroke="#0a0a0a" stroke-width="1.2"/>
<text x="379.5" y="403.3" font-size="12" text-anchor="end" font-weight="bold" textLength="10.44" lengthAdjust="spacingAndGlyphs">40</text>
<line x1="384.8" y1="370.72" x2="388" y2="370.72" stroke="#0a0a0a" stroke-width="1.2"/>
<text x="379.5" y="374.52" font-size="12" text-anchor="end" font-weight="bold" textLength="10.44" lengthAdjust="spacingAndGlyphs">41</text>
<line x1="384.8" y1="341.94" x2="388" y2="341.94" stroke="#0a0a0a" stroke-width="1.2"/>
<text x="379.5" y="345.74" font-size="12" text-anchor="end" font-weight="bold" textLength="10.44" lengthAdjust="spacingAndGlyphs">42</text>
<line x1="384.8" y1="313.16" x2="388" y2="313.16" stroke="#0a0a0a" stroke-width="1.2"/>
<text x="379.5" y="316.96" font-size="12" text-anchor="end" font-weight="bold" textLength="10.44" lengthAdjust="spacingAndGlyphs">43</text>
<line x1="384.8" y1="284.38" x2="388" y2="284.38" stroke="#0a0a0a" stroke-width="1.2"/>
<text x="379.5" y="288.18" font-size="12" text-anchor="end" font-weight="bold" textLength="10.44" lengthAdjust="spacingAndGlyphs">44</text>
<line x1="384.8" y1="255.6" x2="388" y2="255.6" stroke="#0a0a0a" stroke-width="1.2"/>
<text x="379.5" y="259.4" font-size="12" text-anchor="end" font-weight="bold" textLength="10.44" lengthAdjust="spacingAndGlyphs">45</text>
<line x1="424.51" y1="399.5" x2="424.51" y2="420.9" stroke="#0a0a0a" stroke-width="1.4"/>
<line x1="461.02" y1="399.5" x2="461.02" y2="441.7" stroke="#0a0a0a" stroke-width="1.4"/>
<line x1="497.54" y1="399.5" x2="497.54" y2="420.9" stroke="#0a0a0a" stroke-width="1.4"/>
<line x1="534.05" y1="399.5" x2="534.05" y2="441.7" stroke="#0a0a0a" stroke-width="1.4"/>
<line x1="570.56" y1="399.5" x2="570.56" y2="420.9" stroke="#0a0a0a" stroke-width="1.4"/>
<line x1="607.08" y1="399.5" x2="607.08" y2="441.7" stroke="#0a0a0a" stroke-width="1.4"/>
<line x1="643.59" y1="399.5" x2="643.59" y2="420.9" stroke="#0a0a0a" stroke-width="1.4"/>
<line x1="680.1" y1="399.5" x2="680.1" y2="441.7" stroke="#0a0a0a" stroke-width="1.4"/>
<text x="405.26" y="418.2" font-size="12.5" text-anchor="middle" font-weight="bold" textLength="33" lengthAdjust="spacingAndGlyphs">Non-AZ</text>
<text x="441.77" y="418.2" font-size="12.5" text-anchor="middle" font-weight="bold" textLength="12.6" lengthAdjust="spacingAndGlyphs">AZ</text>
<text x="478.28" y="418.2" font-size="12.5" text-anchor="middle" font-weight="bold" textLength="33" lengthAdjust="spacingAndGlyphs">Non-AZ</text>
<text x="514.79" y="418.2" font-size="12.5" text-anchor="middle" font-weight="bold" textLength="12.6" lengthAdjust="spacingAndGlyphs">AZ</text>
<text x="551.31" y="418.2" font-size="12.5" text-anchor="middle" font-weight="bold" textLength="33" lengthAdjust="spacingAndGlyphs">Non-AZ</text>
<text x="587.82" y="418.2" font-size="12.5" text-anchor="middle" font-weight="bold" textLength="12.6" lengthAdjust="spacingAndGlyphs">AZ</text>
<text x="624.33" y="418.2" font-size="12.5" text-anchor="middle" font-weight="bold" textLength="33" lengthAdjust="spacingAndGlyphs">Non-AZ</text>
<text x="660.84" y="418.2" font-size="12.5" text-anchor="middle" font-weight="bold" textLength="12.6" lengthAdjust="spacingAndGlyphs">AZ</text>
<text x="424.51" y="438.3" font-size="12.5" text-anchor="middle" font-weight="bold" textLength="6.68" lengthAdjust="spacingAndGlyphs">C</text>
<text x="497.54" y="438.3" font-size="12.5" text-anchor="middle" font-weight="bold" textLength="6.68" lengthAdjust="spacingAndGlyphs">R</text>
<text x="570.56" y="438.3" font-size="12.5" text-anchor="middle" font-weight="bold" textLength="6.68" lengthAdjust="spacingAndGlyphs">V</text>
<text x="643.59" y="438.3" font-size="12.5" text-anchor="middle" font-weight="bold" textLength="13.03" lengthAdjust="spacingAndGlyphs">RV</text>
<text x="331.8" y="23.3" font-size="17" text-anchor="end" font-weight="bold" textLength="57.2" lengthAdjust="spacingAndGlyphs">2021/2022</text>
<text x="674.8" y="21.3" font-size="17" text-anchor="end" font-weight="bold" textLength="57" lengthAdjust="spacingAndGlyphs">2022/2023</text>
<text transform="translate(17.3,205.5) rotate(-90)" font-size="13" font-weight="bold" style="stroke-width:0.42px" textLength="9.5" lengthAdjust="spacingAndGlyphs">T</text>
<text transform="translate(17.3,196.3) rotate(-90)" font-size="13" font-weight="bold" style="stroke-width:0.42px" textLength="24" lengthAdjust="spacingAndGlyphs">otal</text>
<text transform="translate(17.3,164.7) rotate(-90)" font-size="13" font-weight="bold" style="stroke-width:0.42px" textLength="60" lengthAdjust="spacingAndGlyphs">Phenolic</text>
<text transform="translate(17.3,100.4) rotate(-90)" font-size="13" font-weight="bold" style="stroke-width:0.42px" textLength="84" lengthAdjust="spacingAndGlyphs">Compounds</text>
<text transform="translate(17.7,394.6) rotate(-90)" font-size="13" font-weight="bold" style="stroke-width:0.42px" textLength="115" lengthAdjust="spacingAndGlyphs">Total Flavonoids</text>
<text x="153.4" y="453.8" font-size="17" text-anchor="start" font-weight="bold" textLength="64.3" lengthAdjust="spacingAndGlyphs">Treatments</text>
<text x="493.4" y="453.8" font-size="17" text-anchor="start" font-weight="bold" textLength="64.3" lengthAdjust="spacingAndGlyphs">Treatments</text>
<text x="7.6" y="226" font-size="20.6" text-anchor="start" font-weight="bold" textLength="8.2" lengthAdjust="spacingAndGlyphs">a</text>
<text x="350.5" y="223.1" font-size="21" text-anchor="start" font-weight="bold" textLength="9.3" lengthAdjust="spacingAndGlyphs">b</text>
<text x="7.5" y="456.5" font-size="21" text-anchor="start" font-weight="bold" textLength="7.5" lengthAdjust="spacingAndGlyphs">c</text>
<text x="350.2" y="450.4" font-size="20" text-anchor="start" font-weight="bold" textLength="8.9" lengthAdjust="spacingAndGlyphs">d</text>
</g>
</svg>
</body></html>
